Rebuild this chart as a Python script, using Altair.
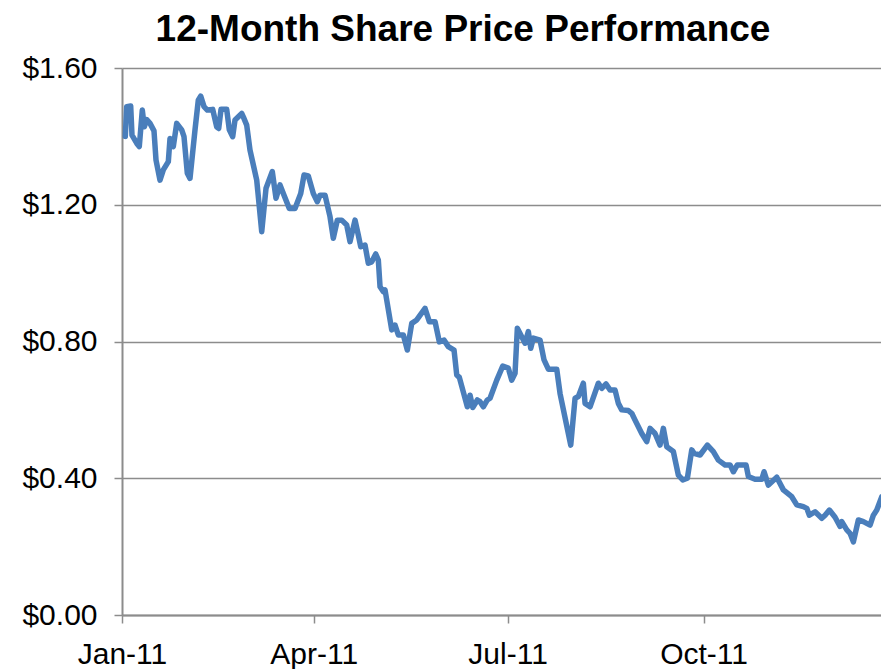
import altair as alt
import pandas as pd

# Day offsets from 1 Jan 2011 and share price (USD)
days = [1.55, 2.2, 4.08, 4.69, 6.9, 8.12, 9.53, 10.47, 11.6, 13.15, 15.02, 15.96, 17.84, 19.39,
        21.74, 22.54, 24.08, 25.68, 28.03, 29.11, 30.66, 31.92, 34.27, 35.82, 36.95, 38.5,
        40.05, 42.58, 44.46, 45.4, 46.48, 49.15, 50.38, 51.97, 53.05, 56.2, 56.95, 58.54,
        60.09, 63.24, 65.59, 67.61, 70.56, 72.3, 74.18, 76.06, 78.54, 81.22, 83.9, 85.45,
        87.46, 89.81, 91.69, 92.96, 95.31, 97.65, 99.2, 101.08, 103.15, 105.49, 107.04,
        109.39, 110.94, 112.07, 114.08, 115.63, 117.23, 119.11, 120.33,
        121.13, 122.68, 123.47, 126.62, 128.17, 129.72, 132.07, 133.94, 136.01, 138.36,
        142.25, 144.27, 146.95, 148.97, 151.17, 153.19, 155.87, 157.14, 158.36, 162.11,
        163.38, 164.65, 166.81,
        168.08, 169.62, 171.5, 172.77, 175.92, 178.73, 181.36, 182.96, 184.51, 185.59,
        187.65, 189.2, 190.75, 191.88, 193.1, 196.24, 198.12, 200.14, 204.08, 205.63,
        210.66, 212.68, 214.23, 216.57, 217.37, 219.72, 223.62,
        225.21, 227.23, 229.11, 231.46, 233.0, 234.6, 237.7, 239.3, 240.85, 243.99,
        246.34, 247.89, 250.23, 252.58, 254.13, 255.73, 258.83, 261.17, 263.24, 265.4,
        267.46, 268.54, 271.36, 274.79, 277.6, 279.95, 283.1, 285.45, 287.0, 288.87,
        292.96, 294.04, 297.18, 300.33, 301.41, 303.43, 307.37, 310.47, 314.41, 316.76,
        319.86, 321.46, 322.68, 325.35, 328.5, 330.05, 332.07, 334.74, 337.09, 337.89,
        340.23, 341.78, 343.33, 345.68, 348.03, 351.17, 352.72, 354.32, 356.67, 358.22,
        360.05]

prices = [1.40, 1.487, 1.489, 1.404, 1.38, 1.37, 1.477, 1.428, 1.449, 1.438, 1.416, 1.331,
          1.272, 1.302, 1.326, 1.394, 1.37, 1.438, 1.419, 1.399, 1.292, 1.277, 1.419, 1.506,
          1.518, 1.487, 1.477, 1.479, 1.428, 1.423, 1.479, 1.479, 1.419, 1.399, 1.448, 1.467,
          1.457, 1.433,
          1.36, 1.272, 1.121, 1.248, 1.297, 1.219, 1.258, 1.228, 1.189, 1.189, 1.233, 1.287,
          1.284, 1.233, 1.209, 1.228, 1.228, 1.165, 1.102, 1.155, 1.155, 1.141, 1.092,
          1.155, 1.111, 1.077, 1.082, 1.029, 1.033, 1.056, 1.038,
          0.960, 0.946, 0.951, 0.834, 0.848, 0.819, 0.819, 0.775, 0.853, 0.863,
          0.897, 0.858, 0.858, 0.799, 0.804, 0.785, 0.775, 0.702, 0.695, 0.609,
          0.643, 0.607, 0.629,
          0.624, 0.609, 0.629, 0.634, 0.687, 0.728, 0.722, 0.687, 0.707, 0.839,
          0.814, 0.795, 0.829, 0.780, 0.810, 0.804, 0.746, 0.719, 0.719, 0.648,
          0.497, 0.634, 0.639, 0.678, 0.619, 0.609, 0.678,
          0.663, 0.676, 0.658, 0.658, 0.619, 0.600, 0.598, 0.590, 0.570, 0.531,
          0.507, 0.546, 0.531, 0.497, 0.546, 0.492, 0.478, 0.409, 0.395, 0.400,
          0.483, 0.473, 0.468, 0.497, 0.478, 0.453, 0.439, 0.439, 0.419, 0.439,
          0.439, 0.405, 0.397, 0.397, 0.419, 0.380, 0.403, 0.366, 0.346, 0.322,
          0.317, 0.312, 0.292, 0.302, 0.283, 0.292, 0.307, 0.286, 0.259, 0.273,
          0.249, 0.239, 0.214, 0.278, 0.273, 0.263, 0.292, 0.307, 0.346, 0.351,
          0.332]

y_ticks = [0.0, 0.4, 0.8, 1.2, 1.6]
x_tick_months = [1, 4, 7, 10]
title_text = ["12-Month Share Price Performance"]

start = pd.Timestamp("2011-01-01")
dates = [start + pd.to_timedelta(d, unit="D") for d in days]
df = pd.DataFrame({"date": dates, "price": prices})
domain_end = (start + pd.to_timedelta(356.3, unit="D")).strftime("%Y-%m-%dT%H:%M:%S")

FONT = "Arial, Liberation Sans, sans-serif"
GRID = "#8C8C8C"

line = alt.Chart(df).mark_line(
    color="#4A7EBB", strokeWidth=5.5, strokeJoin="round", strokeCap="round", clip=True
).encode(
    x=alt.X(
        "date:T",
        scale=alt.Scale(domain=["2011-01-01T00:00:00", domain_end]),
        axis=alt.Axis(
            title=None,
            values=[alt.DateTime(year=2011, month=m, date=1) for m in x_tick_months],
            format="%b-%y",
            labelFont=FONT, labelFontSize=30, labelColor="black",
            labelPadding=16, tickSize=8, tickColor=GRID, tickWidth=1.5,
            domainColor=GRID, domainWidth=2, grid=False, labelFlush=False,
        ),
    ),
    y=alt.Y(
        "price:Q",
        scale=alt.Scale(domain=[0, 1.6], nice=False),
        axis=alt.Axis(
            title=None, values=y_ticks, format="$.2f",
            labelFont=FONT, labelFontSize=30, labelColor="black",
            labelPadding=17, tickSize=8, tickColor=GRID, tickWidth=1.5,
            domainColor=GRID, domainWidth=2,
            grid=True, gridColor=GRID, gridWidth=1.5,
        ),
    ),
)

title = alt.Chart(pd.DataFrame({"t": title_text})).mark_text(
    font=FONT, fontSize=37, fontWeight="bold", color="black",
    align="center", baseline="alphabetic",
).encode(
    text="t:N",
    x=alt.value(341),
    y=alt.value(-27),
)

chart = alt.layer(line, title).properties(
    width=759,
    height=547,
    autosize=alt.AutoSizeParams(type="none"),
    padding={"left": 114, "top": 60, "right": 0, "bottom": 54},
).configure_view(strokeWidth=0)

chart.save("out.html", embed_options={"renderer": "svg", "actions": False})
